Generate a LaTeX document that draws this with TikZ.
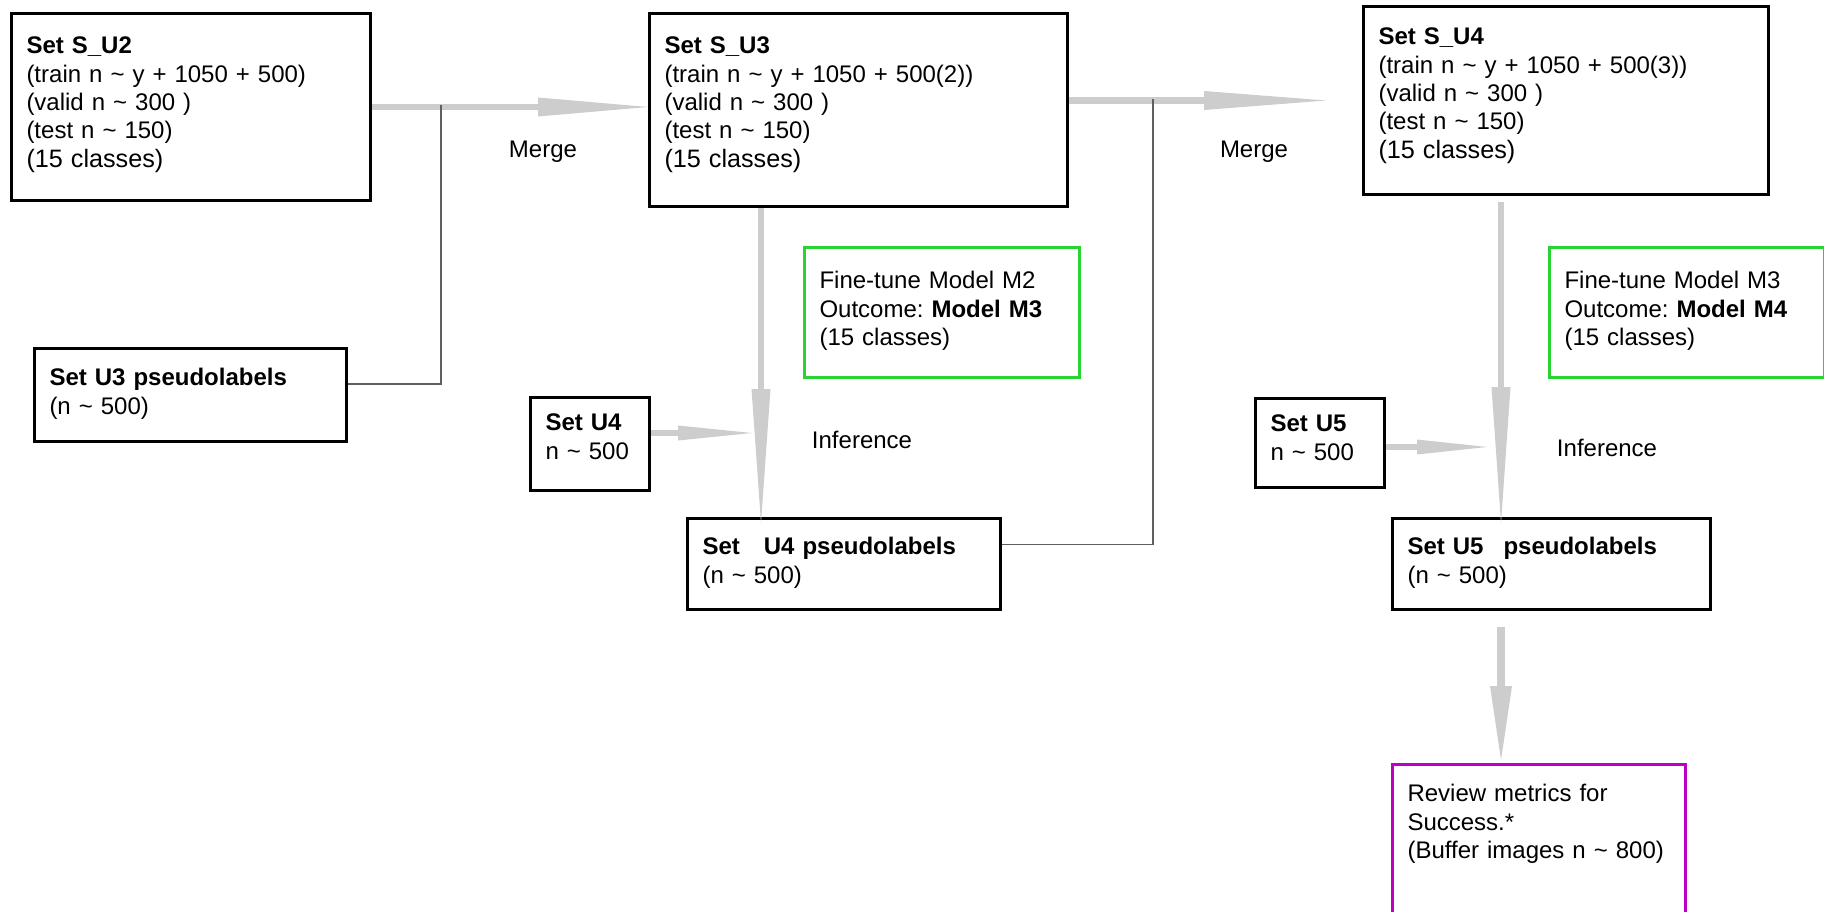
\documentclass[tikz,border=0pt]{standalone}
\usepackage{fontspec}
\setmainfont{Liberation Sans}
\usetikzlibrary{arrows.meta}
\frenchspacing

\definecolor{arrowgray}{RGB}{205,205,205}
\definecolor{linkgray}{RGB}{95,95,95}
\definecolor{tunegreen}{RGB}{40,212,50}
\definecolor{reviewmag}{RGB}{192,0,200}

\newcommand{\clsfont}{\fontsize{12.6}{15}\selectfont}
\newcommand{\tld}{\textasciitilde{}}

\tikzset{
  setbox/.style={draw, line width=1.5pt, anchor=north west, align=left,
    inner xsep=7.5pt, inner ysep=0pt, font=\fontsize{12}{14.2}\selectfont},
  tunebox/.style={setbox, draw=tunegreen},
  reviewbox/.style={setbox, draw=reviewmag},
  flow/.style={draw=arrowgray, line width=3.3pt,
    -{Triangle[length=#1, width=9.5pt, line width=0pt 0]}},
  flow/.default=55pt,
  feed/.style={draw=arrowgray, line width=2.6pt,
    -{Triangle[length=#1, width=7.5pt, line width=0pt 0]}},
  feed/.default=35pt,
  link/.style={draw=linkgray, line width=0.8pt},
  lbl/.style={font=\fontsize{12}{14.4}\selectfont}
}

\begin{document}
\begin{tikzpicture}[x=0.5pt,y=-0.5pt]
\useasboundingbox (0,0) rectangle (1824,911);

% top row
\node[setbox, text width=164.5pt, text height=20.1pt, text depth=73.4pt] (su2) at (10,12)
  {\textbf{Set S\_U2}\\(train n \tld{} y + 1050 + 500)\\(valid n \tld{} 300 )\\(test n \tld{} 150)\\{\clsfont (15 classes)}};
\node[setbox, text width=194pt, text height=20.1pt, text depth=76.4pt] (su3) at (648,12)
  {\textbf{Set S\_U3}\\(train n \tld{} y + 1050 + 500(2))\\(valid n \tld{} 300 )\\(test n \tld{} 150)\\{\clsfont (15 classes)}};
\node[setbox, text width=187.5pt, text height=19.1pt, text depth=74.9pt] (su4) at (1362,5)
  {\textbf{Set S\_U4}\\(train n \tld{} y + 1050 + 500(3))\\(valid n \tld{} 300 )\\(test n \tld{} 150)\\{\clsfont (15 classes)}};

% models
\node[tunebox, text width=122.5pt, text height=20.6pt, text depth=44.4pt] (m3) at (803,246)
  {Fine-tune Model M2\\Outcome: \textbf{Model M3}\\(15 classes)};
\node[tunebox, text width=122.5pt, text height=20.6pt, text depth=44.4pt] (m4) at (1548,246)
  {Fine-tune Model M3\\Outcome: \textbf{Model M4}\\(15 classes)};

% unlabelled sets
\node[setbox, text width=141pt, text height=18.6pt, text depth=27.9pt] (u3p) at (33,347)
  {\textbf{Set U3 pseudolabels}\\(n \tld{} 500)};
\node[setbox, text width=44.5pt, text height=16.6pt, text depth=29.9pt] (u4) at (529,396)
  {\textbf{Set U4}\\n \tld{} 500};
\node[setbox, text width=141.5pt, text height=18.1pt, text depth=27.4pt] (u4p) at (686,517)
  {\textbf{Set\hspace{12pt}U4 pseudolabels}\\(n \tld{} 500)};
\node[setbox, text width=49.5pt, text height=16.6pt, text depth=27.9pt] (u5) at (1254,397)
  {\textbf{Set U5}\\n \tld{} 500};
\node[setbox, text width=144pt, text height=18.1pt, text depth=27.4pt] (u5p) at (1391,517)
  {\textbf{Set U5\hspace{10pt}pseudolabels}\\(n \tld{} 500)};
\node[reviewbox, text width=131.5pt, text height=18.6pt, text depth=64.9pt] (rev) at (1391,763)
  {Review metrics for\\Success.*\\(Buffer images n \tld{} 800)};

% labels
\node[lbl] (merge1) at (543,152) {Merge};
\node[lbl] (merge2) at (1254,152) {Merge};
\node[lbl] (infer1) at (862,440) {Inference};
\node[lbl] (infer2) at (1607,448) {Inference};

\coordinate (m1) at (441,105);
\coordinate (m2) at (1153,99);
\coordinate (j1) at (761,433);
\coordinate (j2) at (1501,447);

% merges
\draw[flow] (su2.east) -- (su2.east -| su3.west);
\draw[flow=61pt, shorten >=18pt] (su4.west -| su3.east) -- (su4.west);
\draw[link] ([yshift=5.5pt]u3p.east) -| (m1);
\draw[link] ([yshift=9.75pt]u4p.east) -| (m2);

% inference
\draw[flow=67pt, shorten >=-3pt] (su3.south -| j1) -- (u4p.north -| j1);
\draw[feed=37pt, shorten >=4.5pt] (u4.east |- j1) -- (j1);
\draw[flow=68pt, shorten <=3pt, shorten >=-3pt] (su4.south -| j2) -- (u5p.north -| j2);
\draw[feed=35pt, shorten >=7pt] (u5.east |- j2) -- (j2);
\draw[flow, line width=3.8pt, -{Triangle[length=37pt, width=11pt, line width=0pt 0]},
  shorten <=8pt, shorten >=1.5pt] (u5p.south -| j2) -- (rev.north -| j2);
\end{tikzpicture}
\end{document}
